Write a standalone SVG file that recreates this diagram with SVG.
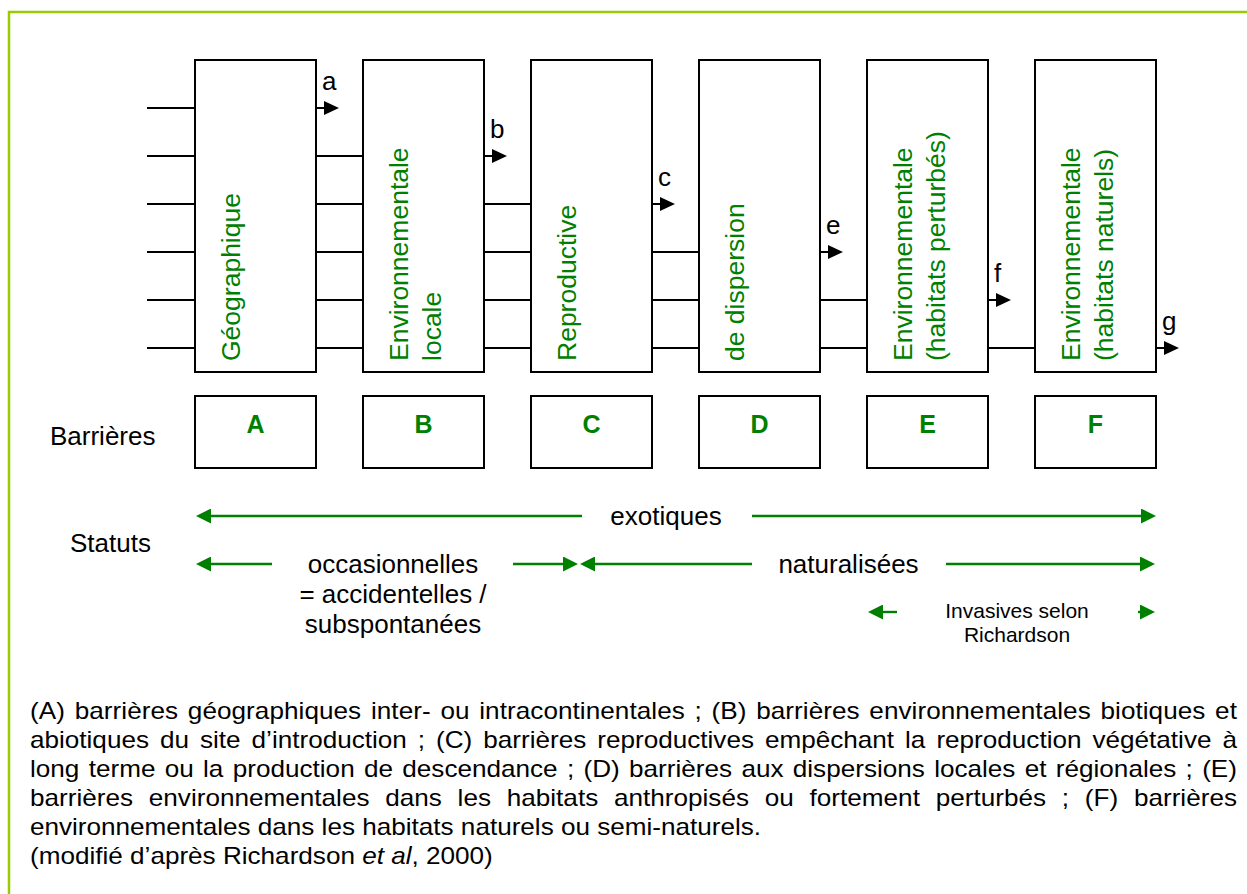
<svg xmlns="http://www.w3.org/2000/svg" width="1247" height="894" viewBox="0 0 1247 894">
<style>
  .t { font-family: "Liberation Sans", Arial, sans-serif; fill: #000; }
  .big { font-size: 26px; }
  .g { fill: #008000; }
  .rot { font-family: "Liberation Sans", Arial, sans-serif; font-size: 26.5px; fill: #008000; }
  .lt { font-family: "Liberation Sans", Arial, sans-serif; font-size: 25px; font-weight: bold; fill: #008000; }
  .box { fill: #fff; stroke: #000; stroke-width: 2; }
  .bl { stroke: #000; stroke-width: 2; fill: none; }
  .ba { stroke: #000; stroke-width: 2; fill: none; marker-end: url(#ab); }
  .ga { stroke: #008000; stroke-width: 2.4; fill: none; marker-end: url(#ag); }
  .cap { font-family: "Liberation Sans", Arial, sans-serif; font-size: 23px; fill: #000; }
</style>
<defs>
  <marker id="ab" viewBox="0 0 15 14" refX="0.5" refY="7" markerWidth="15" markerHeight="14" markerUnits="userSpaceOnUse" orient="auto">
    <path d="M0,0L15,7L0,14z" fill="#000"/>
  </marker>
  <marker id="ag" viewBox="0 0 15 15" refX="0.5" refY="7.5" markerWidth="15" markerHeight="15" markerUnits="userSpaceOnUse" orient="auto">
    <path d="M0,0L15,7.5L0,15z" fill="#008000"/>
  </marker>
</defs>
<rect width="1247" height="894" fill="#fff"/>
<rect x="9" y="12" width="1270" height="920" fill="none" stroke="#99CC00" stroke-width="2.5"/>

<g id="connectors">
  <!-- input lines -->
  <path class="bl" d="M147,108H195M147,156H195M147,204H195M147,252H195M147,300H195M147,348H195"/>
  <!-- A to B -->
  <path class="bl" d="M316,156H363M316,204H363M316,252H363M316,300H363M316,348H363"/>
  <!-- B to C -->
  <path class="bl" d="M484,204H531M484,252H531M484,300H531M484,348H531"/>
  <!-- C to D -->
  <path class="bl" d="M652,252H699M652,300H699M652,348H699"/>
  <!-- D to E -->
  <path class="bl" d="M820,300H867M820,348H867"/>
  <!-- E to F -->
  <path class="bl" d="M988,348H1035"/>
  <!-- exits -->
  <line class="ba" x1="316" y1="108" x2="324.5" y2="108"/>
  <line class="ba" x1="484" y1="156" x2="492.5" y2="156"/>
  <line class="ba" x1="652" y1="204" x2="660.5" y2="204"/>
  <line class="ba" x1="820" y1="252" x2="828.5" y2="252"/>
  <line class="ba" x1="988" y1="300" x2="996.5" y2="300"/>
  <line class="ba" x1="1156" y1="348" x2="1164.5" y2="348"/>
  <text class="t big" x="322" y="90">a</text>
  <text class="t big" x="490" y="138">b</text>
  <text class="t big" x="658" y="186">c</text>
  <text class="t big" x="826" y="234">e</text>
  <text class="t big" x="994" y="282">f</text>
  <text class="t big" x="1162" y="330">g</text>
</g>

<g id="barrier-A">
  <rect class="box" x="195" y="60" width="121" height="312"/>
  <text class="rot" transform="translate(240,361) rotate(-90)">Géographique</text>
</g>
<g id="barrier-B">
  <rect class="box" x="363" y="60" width="121" height="312"/>
  <text class="rot" transform="translate(408,361) rotate(-90)">Environnementale</text>
  <text class="rot" transform="translate(441,361) rotate(-90)">locale</text>
</g>
<g id="barrier-C">
  <rect class="box" x="531" y="60" width="121" height="312"/>
  <text class="rot" transform="translate(576,361) rotate(-90)">Reproductive</text>
</g>
<g id="barrier-D">
  <rect class="box" x="699" y="60" width="121" height="312"/>
  <text class="rot" transform="translate(744,361) rotate(-90)">de dispersion</text>
</g>
<g id="barrier-E">
  <rect class="box" x="867" y="60" width="121" height="312"/>
  <text class="rot" transform="translate(912,361) rotate(-90)">Environnementale</text>
  <text class="rot" transform="translate(945,361) rotate(-90)">(habitats perturbés)</text>
</g>
<g id="barrier-F">
  <rect class="box" x="1035" y="60" width="121" height="312"/>
  <text class="rot" transform="translate(1080,361) rotate(-90)">Environnementale</text>
  <text class="rot" transform="translate(1113,361) rotate(-90)">(habitats naturels)</text>
</g>

<g id="labels-barrieres">
  <text class="t big" x="50" y="445">Barrières</text>
  <g id="label-A"><rect class="box" x="195" y="396" width="121" height="72"/><text class="lt" x="255.5" y="433" text-anchor="middle">A</text></g>
  <g id="label-B"><rect class="box" x="363" y="396" width="121" height="72"/><text class="lt" x="423.5" y="433" text-anchor="middle">B</text></g>
  <g id="label-C"><rect class="box" x="531" y="396" width="121" height="72"/><text class="lt" x="591.5" y="433" text-anchor="middle">C</text></g>
  <g id="label-D"><rect class="box" x="699" y="396" width="121" height="72"/><text class="lt" x="759.5" y="433" text-anchor="middle">D</text></g>
  <g id="label-E"><rect class="box" x="867" y="396" width="121" height="72"/><text class="lt" x="927.5" y="433" text-anchor="middle">E</text></g>
  <g id="label-F"><rect class="box" x="1035" y="396" width="121" height="72"/><text class="lt" x="1095.5" y="433" text-anchor="middle">F</text></g>
</g>

<g id="statuts">
  <text class="t big" x="70" y="552">Statuts</text>
  <line class="ga" x1="582" y1="516" x2="210.5" y2="516"/>
  <line class="ga" x1="752" y1="516" x2="1141.5" y2="516"/>
  <text class="t big" x="666" y="525" text-anchor="middle">exotiques</text>

  <line class="ga" x1="272" y1="564" x2="210.5" y2="564"/>
  <line class="ga" x1="513" y1="564" x2="563.5" y2="564"/>
  <text class="t big" x="393" y="573" text-anchor="middle">occasionnelles</text>
  <text class="t big" x="393" y="603" text-anchor="middle">= accidentelles /</text>
  <text class="t big" x="393" y="633" text-anchor="middle">subspontanées</text>

  <line class="ga" x1="752" y1="564" x2="594.5" y2="564"/>
  <line class="ga" x1="946" y1="564" x2="1140.5" y2="564"/>
  <text class="t big" x="848.5" y="573" text-anchor="middle">naturalisées</text>

  <line class="ga" x1="897" y1="612" x2="882.5" y2="612"/>
  <line class="ga" x1="1138" y1="612" x2="1140.5" y2="612"/>
  <text class="t" font-size="21" x="1017" y="618" text-anchor="middle">Invasives selon</text>
  <text class="t" font-size="21" x="1017" y="642" text-anchor="middle">Richardson</text>
</g>

<g id="caption" transform="translate(30 0) scale(1.135 1)">
  <text class="cap" x="0" y="719.5" word-spacing="2.1" textLength="1063.4" lengthAdjust="spacing">(A) barrières géographiques inter- ou intracontinentales ; (B) barrières environnementales biotiques et</text>
  <text class="cap" x="0" y="748.5" word-spacing="3.3" textLength="1063.4" lengthAdjust="spacing">abiotiques du site d’introduction ; (C) barrières reproductives empêchant la reproduction végétative à</text>
  <text class="cap" x="0" y="777.5" word-spacing="1.8" textLength="1063.4" lengthAdjust="spacing">long terme ou la production de descendance ; (D) barrières aux dispersions locales et régionales ; (E)</text>
  <text class="cap" x="0" y="806.5" word-spacing="7.5" textLength="1063.4" lengthAdjust="spacing">barrières environnementales dans les habitats anthropisés ou fortement perturbés ; (F) barrières</text>
  <text class="cap" x="0" y="835.5">environnementales dans les habitats naturels ou semi-naturels.</text>
  <text class="cap" x="0" y="864.5">(modifié d’après Richardson <tspan font-style="italic">et al</tspan>, 2000)</text>
</g>
</svg>
